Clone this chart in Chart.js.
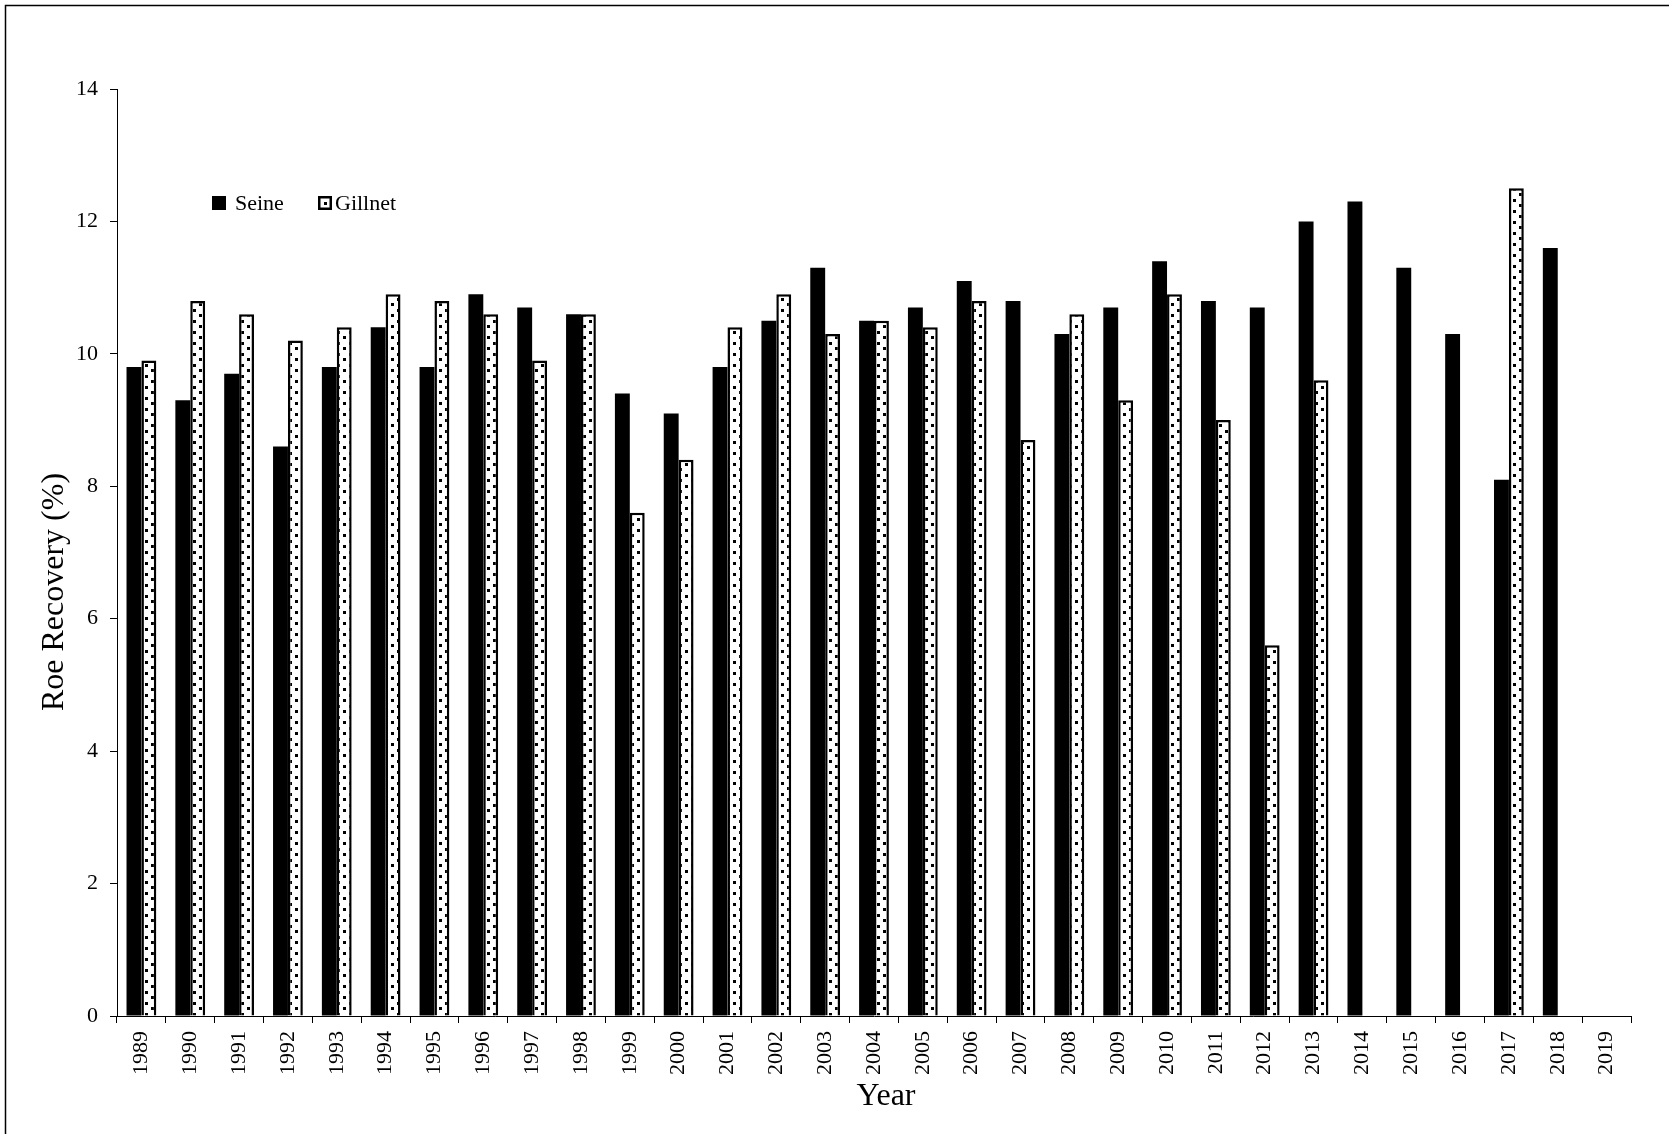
<!DOCTYPE html>
<html>
<head>
<meta charset="utf-8">
<script src="https://cdn.jsdelivr.net/npm/chart.js@4/dist/chart.umd.min.js"></script>
<style>
  html, body { margin: 0; padding: 0; background: #fff; }
  #wrap { width: 1669px; height: 1134px; }
</style>
</head>
<body>
<div id="wrap"><canvas id="roe" width="1669" height="1134"></canvas></div>
<script>
// Roe recovery (%) by year and gear type
const years = ['1989','1990','1991','1992','1993','1994','1995','1996','1997','1998',
               '1999','2000','2001','2002','2003','2004','2005','2006','2007','2008',
               '2009','2010','2011','2012','2013','2014','2015','2016','2017','2018','2019'];
const seine = [9.8, 9.3, 9.7, 8.6, 9.8, 10.4, 9.8, 10.9, 10.7, 10.6,
               9.4, 9.1, 9.8, 10.5, 11.3, 10.5, 10.7, 11.1, 10.8, 10.3,
               10.7, 11.4, 10.8, 10.7, 12.0, 12.3, 11.3, 10.3, 8.1, 11.6, null];
const gillnet = [9.9, 10.8, 10.6, 10.2, 10.4, 10.9, 10.8, 10.6, 9.9, 10.6,
                 7.6, 8.4, 10.4, 10.9, 10.3, 10.5, 10.4, 10.8, 8.7, 10.6,
                 9.3, 10.9, 9.0, 5.6, 9.6, null, null, null, 12.5, null, null];
const seriesNames = ['Seine', 'Gillnet'];
const yAxisTitle = 'Roe Recovery (%)';
const xAxisTitle = 'Year';
const yMin = 0, yMax = 14, yStep = 2;

const FONT = '"Liberation Serif", "Times New Roman", serif';

// Dotted fill for the gillnet bars
function makeDots() {
  const p = document.createElement('canvas');
  p.width = 12; p.height = 11;
  const g = p.getContext('2d');
  g.fillStyle = '#fff';
  g.fillRect(0, 0, 12, 11);
  g.fillStyle = '#000';
  g.fillRect(1, 1, 3, 3);
  g.fillRect(7, 6, 3, 3);
  return g.createPattern(p, 'repeat');
}
const dots = makeDots();

// White page with a thin frame along the top and left edges
const framePlugin = {
  id: 'frame',
  beforeDraw(chart) {
    const ctx = chart.ctx;
    ctx.save();
    ctx.fillStyle = '#fff';
    ctx.fillRect(0, 0, chart.width, chart.height);
    ctx.restore();
  },
  afterDraw(chart) {
    const ctx = chart.ctx;
    ctx.save();
    ctx.strokeStyle = '#000';
    ctx.lineWidth = 1.5;
    ctx.beginPath();
    ctx.moveTo(5.5, chart.height);
    ctx.lineTo(5.5, 5.5);
    ctx.lineTo(chart.width, 5.5);
    ctx.stroke();
    ctx.restore();
  }
};

// Axis titles
const titlesPlugin = {
  id: 'axisTitles',
  afterDraw(chart) {
    const ctx = chart.ctx;
    ctx.save();
    ctx.fillStyle = '#000';
    ctx.font = '32px ' + FONT;
    ctx.textAlign = 'center';
    ctx.textBaseline = 'middle';
    ctx.fillText(xAxisTitle, 886, 1097);
    ctx.translate(55, 592);
    ctx.rotate(-Math.PI / 2);
    ctx.fillText(yAxisTitle, 0, 0);
    ctx.restore();
  }
};

// Legend placed inside the plot area, upper left
const insideLegend = {
  id: 'insideLegend',
  afterDraw(chart) {
    const ctx = chart.ctx;
    const ds = chart.data.datasets;
    ctx.save();
    ctx.font = '22px ' + FONT;
    ctx.textBaseline = 'alphabetic';
    ctx.fillStyle = '#000';
    // Seine
    ctx.fillRect(212, 196, 14, 14);
    ctx.fillText(ds[0].label, 235, 210);
    // Gillnet
    ctx.fillStyle = '#fff';
    ctx.fillRect(318, 196, 14, 14);
    ctx.strokeStyle = '#000';
    ctx.lineWidth = 2.5;
    ctx.strokeRect(319.25, 197.25, 11.5, 11.5);
    ctx.fillStyle = '#000';
    ctx.fillRect(324, 202, 3, 3);
    ctx.fillText(ds[1].label, 335, 210);
    ctx.restore();
  }
};

new Chart(document.getElementById('roe'), {
  type: 'bar',
  data: {
    labels: years,
    datasets: [
      {
        label: seriesNames[0],
        data: seine,
        backgroundColor: '#000',
        borderColor: '#000',
        borderWidth: 0,
        categoryPercentage: 0.61,
        barPercentage: 1.0
      },
      {
        label: seriesNames[1],
        data: gillnet,
        backgroundColor: dots,
        borderColor: '#000',
        borderWidth: 2.5,
        categoryPercentage: 0.61,
        barPercentage: 1.0
      }
    ]
  },
  options: {
    responsive: false,
    animation: false,
    devicePixelRatio: 1,
    layout: { padding: { left: 0, right: 38, top: 89, bottom: 0 } },
    plugins: {
      legend: { display: false },
      tooltip: { enabled: false },
      title: { display: false }
    },
    scales: {
      x: {
        grid: {
          offset: true,
          drawOnChartArea: false,
          drawTicks: true,
          tickLength: 7,
          color: '#000',
          lineWidth: 1
        },
        border: { display: true, color: '#000', width: 1 },
        ticks: {
          color: '#000',
          font: { family: FONT, size: 22 },
          minRotation: 90,
          maxRotation: 90,
          autoSkip: false,
          padding: 8
        },
        afterFit(scale) { scale.height = 118; }
      },
      y: {
        min: yMin,
        max: yMax,
        grid: {
          drawOnChartArea: false,
          drawTicks: true,
          tickLength: 7,
          color: '#000',
          lineWidth: 1
        },
        border: { display: true, color: '#000', width: 1 },
        ticks: {
          stepSize: yStep,
          color: '#000',
          font: { family: FONT, size: 22 },
          padding: 12
        },
        afterFit(scale) { scale.width = 117; }
      }
    }
  },
  plugins: [framePlugin, titlesPlugin, insideLegend]
});
</script>
</body>
</html>
